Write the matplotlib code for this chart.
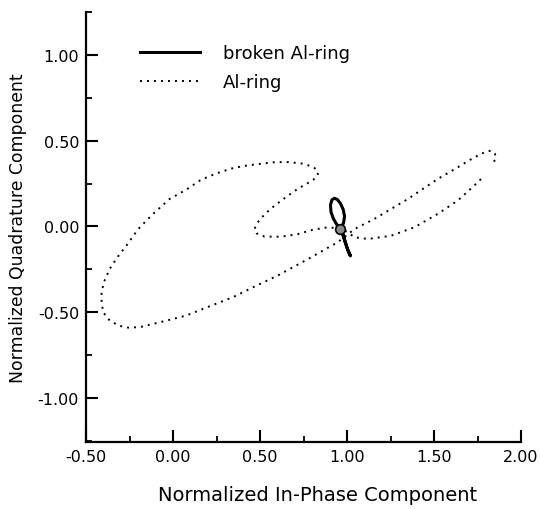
import matplotlib
matplotlib.use("Agg")
import matplotlib.pyplot as plt
from matplotlib.ticker import MultipleLocator, FormatStrFormatter

plt.rcParams['axes.unicode_minus'] = False
plt.rcParams['font.family'] = ['DejaVu Sans']

# Al-ring (dotted) trajectory
al_x = [1.770, 1.721, 1.636, 1.521, 1.387, 1.254, 1.120, 1.043, 1.005, 0.966,
        0.888, 0.800, 0.716, 0.620, 0.526, 0.480, 0.468, 0.487, 0.530, 0.583,
        0.650, 0.716, 0.790, 0.823, 0.835, 0.815, 0.775, 0.737, 0.660, 0.583,
        0.480, 0.400, 0.335, 0.250, 0.160, 0.076, -0.020, -0.115, -0.200, -0.268,
        -0.320, -0.364, -0.395, -0.410, -0.412, -0.402, -0.364, -0.310, -0.249, -0.180,
        -0.115, -0.020, 0.076, 0.200, 0.344, 0.470, 0.601, 0.700, 0.794, 0.880,
        0.947, 1.000, 1.043, 1.157, 1.250, 1.349, 1.440, 1.521, 1.636, 1.700,
        1.751, 1.800, 1.827, 1.850, 1.856, 1.836]
al_y = [0.277, 0.229, 0.151, 0.073, -0.005, -0.054, -0.073, -0.063, -0.034, -0.012,
        -0.005, -0.020, -0.045, -0.060, -0.059, -0.040, -0.015, 0.024, 0.075, 0.121,
        0.172, 0.219, 0.262, 0.285, 0.312, 0.340, 0.358, 0.368, 0.376, 0.375,
        0.363, 0.352, 0.338, 0.310, 0.272, 0.215, 0.160, 0.073, -0.015, -0.112,
        -0.180, -0.248, -0.320, -0.380, -0.420, -0.500, -0.549, -0.580, -0.592, -0.585,
        -0.569, -0.545, -0.520, -0.470, -0.413, -0.350, -0.287, -0.232, -0.180, -0.130,
        -0.092, -0.050, -0.015, 0.044, 0.100, 0.160, 0.222, 0.277, 0.345, 0.385,
        0.413, 0.438, 0.442, 0.425, 0.398, 0.364]

# broken Al-ring (solid) trajectory
br_x = [0.965, 0.980, 0.986, 0.978, 0.962, 0.945, 0.928, 0.913, 0.905, 0.908,
        0.922, 0.942, 0.965, 0.975, 0.990, 1.005, 1.020, 1.014, 0.998, 0.983,
        0.970, 0.965]
br_y = [-0.010, 0.020, 0.060, 0.100, 0.135, 0.157, 0.165, 0.155, 0.125, 0.085,
        0.045, 0.010, -0.010, -0.045, -0.095, -0.140, -0.172, -0.160, -0.115, -0.065,
        -0.025, -0.010]
blob_x = [0.962]
blob_y = [-0.012]

x_ticks = [-0.5, 0.0, 0.5, 1.0, 1.5, 2.0]
y_ticks = [-1.0, -0.5, 0.0, 0.5, 1.0]

fig = plt.figure(figsize=(5.41, 5.10), dpi=100)
ax = fig.add_axes([86 / 541, 1 - 443.3 / 510, (521 - 86) / 541, (443.3 - 12.5) / 510])

ax.plot(br_x, br_y, color='black', lw=2.2, solid_joinstyle='round',
        label='broken Al-ring', zorder=3)
ax.plot(al_x, al_y, color='black', lw=1.4, linestyle=(0, (1, 2.6)),
        label='Al-ring', zorder=2)
ax.plot(blob_x, blob_y, marker='o', ms=7, mfc='#8a8a8a', mec='black', mew=1.2,
        linestyle='none', zorder=4)

ax.set_xlim(-0.5, 2.0)
ax.set_ylim(-1.26, 1.255)
ax.set_xticks(x_ticks)
ax.set_yticks(y_ticks)
ax.xaxis.set_minor_locator(MultipleLocator(0.25))
ax.yaxis.set_minor_locator(MultipleLocator(0.25))
ax.xaxis.set_major_formatter(FormatStrFormatter('%.2f'))
ax.yaxis.set_major_formatter(FormatStrFormatter('%.2f'))

for s in ['top', 'right']:
    ax.spines[s].set_visible(False)
for s in ['left', 'bottom']:
    ax.spines[s].set_linewidth(1.6)

ax.tick_params(which='major', direction='in', length=8.5, width=1.5,
               labelsize=11.5, pad=5)
ax.tick_params(which='minor', direction='in', length=4.5, width=1.3)

ax.set_xlabel('Normalized In-Phase Component', fontsize=14)
ax.xaxis.set_label_coords((317.5 - 86) / 435, -0.098)
ax.set_ylabel('Normalized Quadrature Component', fontsize=12.4)
ax.yaxis.set_label_coords((27 - 86) / 435, 0.5)

leg = ax.legend(loc='upper left', bbox_to_anchor=(140 / 541, 1 - 45 / 510),
                bbox_transform=fig.transFigure, frameon=False, fontsize=13,
                handlelength=3.3, handletextpad=1.3, labelspacing=0.6,
                borderpad=0, borderaxespad=0)

fig.savefig('out.png', dpi=100, facecolor='white')
